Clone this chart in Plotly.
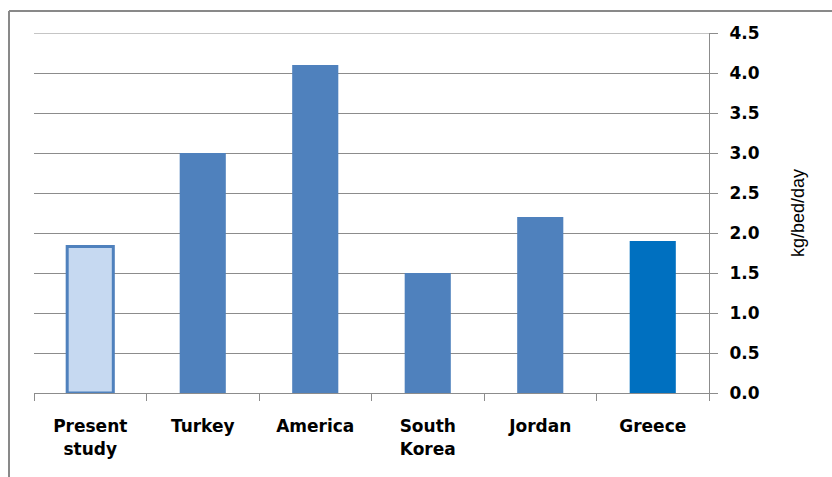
import plotly.graph_objects as go

categories = ["Present<br>study", "Turkey", "America", "South<br>Korea", "Jordan", "Greece"]
values = [1.83, 3.0, 4.1, 1.5, 2.2, 1.9]
fill_colors = ["#C6D9F1", "#4F81BD", "#4F81BD", "#4F81BD", "#4F81BD", "#0070C0"]
line_colors = ["#4F81BD", "#4F81BD", "#4F81BD", "#4F81BD", "#4F81BD", "#0070C0"]
line_widths = [3, 0, 0, 0, 0, 0]
y_ticks = [0, 0.5, 1.0, 1.5, 2.0, 2.5, 3.0, 3.5, 4.0, 4.5]
y_max = 4.5

fig = go.Figure(go.Bar(
    x=categories, y=values,
    marker=dict(color=fill_colors, line=dict(color=line_colors, width=line_widths)),
    width=0.41,
))

fig.update_layout(
    width=832, height=477,
    margin=dict(l=34, r=123, t=33, b=84),
    plot_bgcolor="white", paper_bgcolor="white",
    showlegend=False,
    font=dict(family="DejaVu Sans", color="#000000"),
    xaxis=dict(
        showgrid=False, showline=True, linecolor="#8C8C8C", linewidth=1,
        ticks="outside", tickson="boundaries", ticklen=7, tickcolor="#8C8C8C",
        tickfont=dict(size=17, family="DejaVu Sans", weight="bold"),
        ticklabelstandoff=18,
    ),
    yaxis=dict(
        side="right", range=[0, y_max], tickvals=y_ticks, tickformat=".1f",
        showgrid=True, gridcolor="#8C8C8C", gridwidth=1,
        showline=True, linecolor="#8C8C8C", linewidth=1,
        ticks="outside", ticklen=8, tickcolor="#8C8C8C",
        tickfont=dict(size=17, family="DejaVu Sans", weight="bold"),
        ticklabelstandoff=8,
        zeroline=False,
        title=dict(text="kg/bed/day", font=dict(size=18, family="Liberation Sans Narrow, Liberation Sans"), standoff=32),
    ),
    shapes=[
        dict(type="line", xref="paper", yref="y", x0=0, x1=1, y0=y_max, y1=y_max,
             line=dict(color="#8C8C8C", width=1), layer="below"),
        dict(type="line", xref="paper", yref="paper", x0=-25/675, x1=-25/675, y0=-84/360, y1=1 + 22/360,
             line=dict(color="#898989", width=2)),
        dict(type="line", xref="paper", yref="paper", x0=-25/675, x1=798/675, y0=1 + 22/360, y1=1 + 22/360,
             line=dict(color="#898989", width=2)),
    ],
)

fig.write_html("out.html")
